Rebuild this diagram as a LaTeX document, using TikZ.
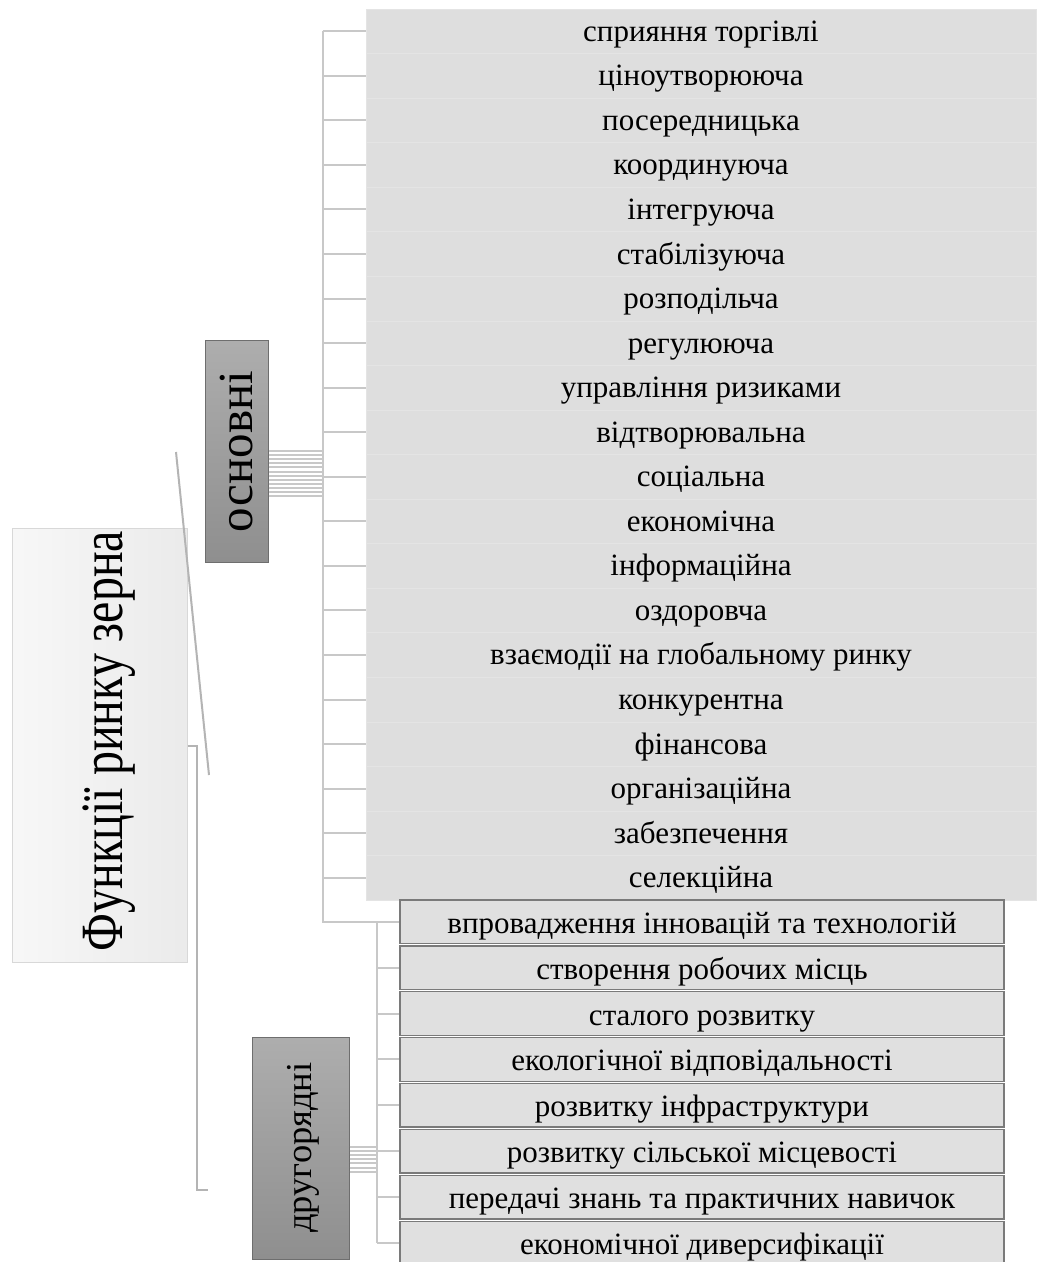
\documentclass[tikz,border=0pt]{standalone}
\usepackage{fontspec}
\setmainfont{Liberation Serif}
\usepackage{graphicx}
\definecolor{ubg}{HTML}{DEDEDE}
\definecolor{usep}{HTML}{E4E4E4}
\definecolor{lbg}{HTML}{E0E0E0}
\definecolor{lbd}{HTML}{7A7A7A}
\definecolor{conn}{HTML}{C8C8C8}
\definecolor{diag}{HTML}{B4B4B4}
\definecolor{mainbd}{HTML}{D8D8D8}
\definecolor{catbd}{HTML}{6E6E6E}
\tikzset{
  lbl/.style={font=\fontsize{31}{36}\selectfont, text depth=0pt},
  ubox/.style={lbl, text height=20pt, fill=ubg, draw=usep, line width=0.6pt, minimum width=670pt, minimum height=44.55pt, inner sep=0pt},
  lbox/.style={lbl, text height=23pt, fill=lbg, draw=lbd, line width=1.3pt, minimum width=604pt, minimum height=43.5pt, inner sep=0pt},
  catbox/.style={draw=catbd, line width=1pt, top color=black!32, bottom color=black!44, inner sep=0pt},
  mainbox/.style={draw=mainbd, line width=1pt, left color=black!3, right color=black!8, inner sep=0pt},
  vtext/.style={rotate=90, anchor=base, inner sep=0pt},
  cn/.style={draw=conn, line width=2pt},
}
\begin{document}
\begin{tikzpicture}[x=1pt,y=-1pt]
\clip (0,0) rectangle (1037,1262);
\fill[white] (0,0) rectangle (1037,1262);
% upper boxes
\foreach \t [count=\i from 0] in {сприяння торгівлі,ціноутворююча,посередницька,координуюча,інтегруюча,стабілізуюча,розподільча,регулююча,управління ризиками,відтворювальна,соціальна,економічна,інформаційна,оздоровча,взаємодії на глобальному ринку,конкурентна,фінансова,організаційна,забезпечення,селекційна}{
  \node[ubox] (u\i) at (701, 9+22.275+44.55*\i) {\t};
}
% lower boxes
\foreach \t [count=\i from 0] in {впровадження інновацій та технологій,створення робочих місць,сталого розвитку,екологічної відповідальності,розвитку інфраструктури,розвитку сільської місцевості,передачі знань та практичних навичок,економічної диверсифікації}{
  \node[lbox] (l\i) at (702, 900+21.75+45.9*\i) {\t};
}
% main and category boxes
\node[mainbox, minimum width=175pt, minimum height=434pt] (main) at (99.5,745) {};
\node[vtext] (maint) at (122,741) {\scalebox{1}[1.25]{\fontsize{48}{52}\selectfont Функції ринку зерна}};
\node[catbox, minimum width=63pt, minimum height=222pt] (osn) at (236.5,451) {};
\node[vtext] (osnt) at (252,451.5) {\fontsize{49}{52}\selectfont основні};
\node[catbox, minimum width=97pt, minimum height=222pt] (drug) at (300.5,1148) {};
\node[vtext] (drugt) at (311,1147.5) {\fontsize{36.5}{40}\selectfont другорядні};
% upper trunk
\coordinate (ut) at (322.5,0);
\draw[cn] (ut |- u0.west) -- (ut |- l0.west) -- (l0.west);
\foreach \i in {0,...,19}{ \draw[cn] (ut |- u\i.west) -- (u\i.west); }
\foreach \k in {0,...,11}{ \draw[cn] (osn.east |- 0,{451+4.1*\k}) -- (ut |- 0,{451+4.1*\k}); }
% lower trunk
\coordinate (lt) at (377,0);
\draw[cn] (lt |- l0.west) -- (lt |- l7.west);
\foreach \i in {0,...,7}{ \draw[cn] (lt |- l\i.west) -- (l\i.west); }
\foreach \k in {0,...,6}{ \draw[cn] (drug.east |- 0,{1147+4.1*\k}) -- (lt |- 0,{1147+4.1*\k}); }
% diagonal and bracket
\coordinate (d1) at (176,452);
\coordinate (d2) at (209,775);
\draw[diag, line width=2pt] (d1) -- (d2);
\coordinate (b2) at (208,1190);
\draw[diag, line width=2pt] (main.east |- 0,746) -- (197,746) -- (197,1190) -- (b2);
\end{tikzpicture}
\end{document}
